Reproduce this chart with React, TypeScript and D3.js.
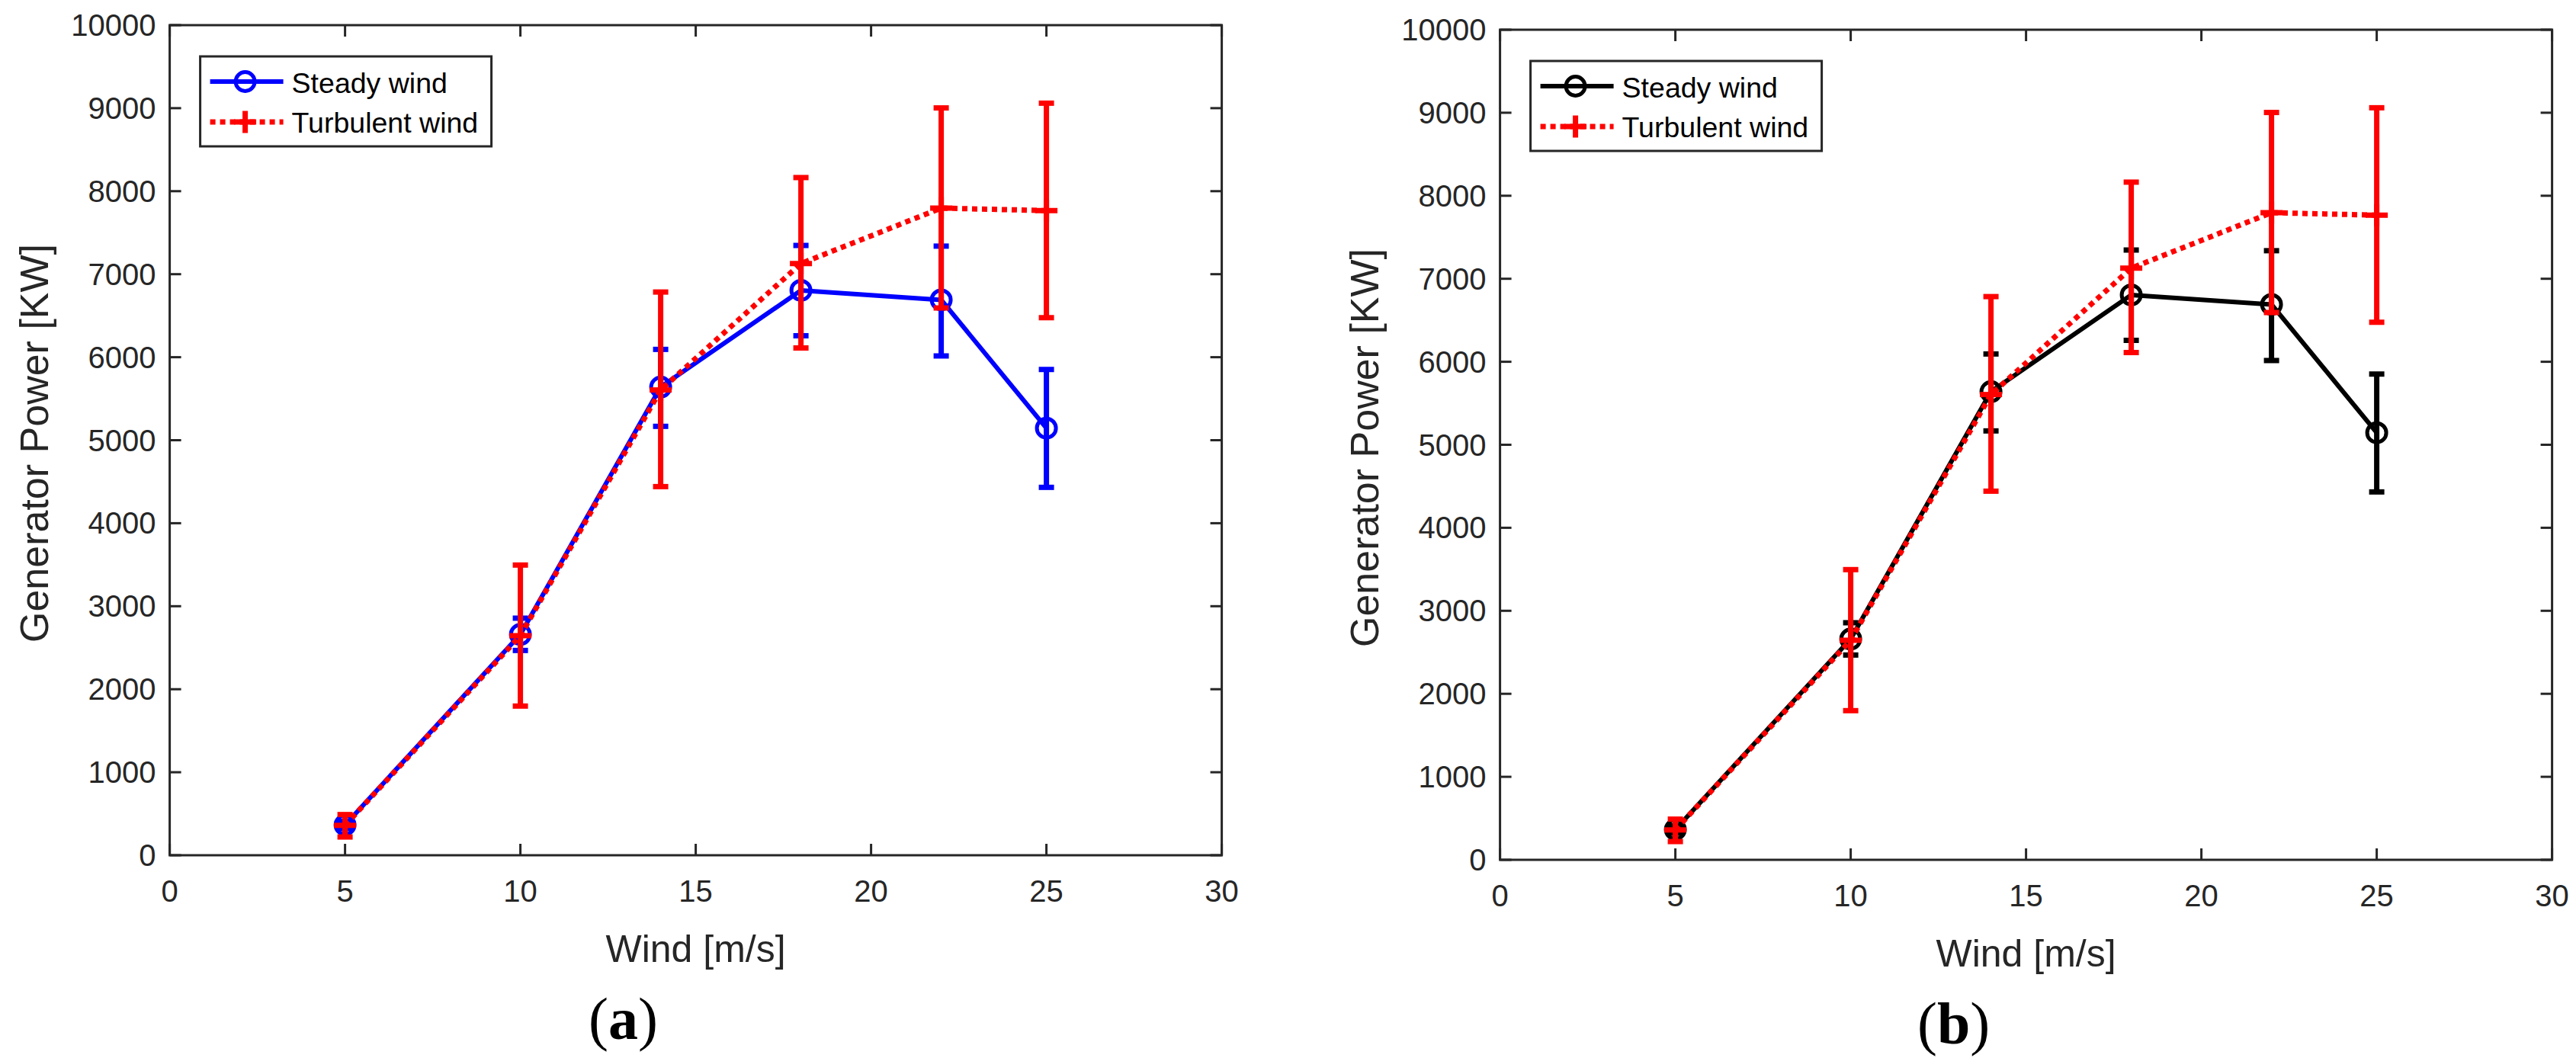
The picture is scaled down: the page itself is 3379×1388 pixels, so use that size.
import React from 'react';
import * as d3 from 'd3';

const windSpeeds = [5, 10, 14, 18, 22, 25];
const steadyMean = [365, 2660, 5640, 6805, 6690, 5145];
const steadyLow = [320, 2467, 5167, 6258, 6015, 4432];
const steadyHigh = [410, 2856, 6094, 7346, 7338, 5852];
const turbMean = [360, 2645, 5605, 7128, 7796, 7766];
const turbLow = [220, 1797, 4441, 6111, 6593, 6476];
const turbHigh = [490, 3496, 6785, 8164, 9003, 9060];
const xTicks = [0, 5, 10, 15, 20, 25, 30];
const yTicks = [0, 1000, 2000, 3000, 4000, 5000, 6000, 7000, 8000, 9000, 10000];
const legendLabels = ['Steady wind', 'Turbulent wind'];
const xLabel = 'Wind [m/s]';
const yLabel = 'Generator Power [KW]';

const AXIS = '#262626';
const RED = '#ff0000';
const SANS = '"Liberation Sans", Arial, Helvetica, sans-serif';
const SERIF = '"Liberation Serif", "Times New Roman", serif';

type PanelProps = { left: number; top: number; steadyColor: string; tag: string };

function Panel({ left, top, steadyColor, tag }: PanelProps) {
  const W = 1380;
  const H = 1089;
  const x = d3.scaleLinear().domain([0, 30]).range([left, left + W]);
  const y = d3.scaleLinear().domain([0, 10000]).range([top + H, top]);
  const line = d3
    .line<number>()
    .x((_, i) => x(windSpeeds[i]))
    .y((d) => y(d));
  const tickLen = 15;
  const capHalf = 10;
  const lx = left + 40;
  const ly = top + 41;

  const errBars = (lo: number[], hi: number[], color: string) =>
    windSpeeds.map((w, i) => (
      <g key={i} stroke={color} strokeWidth={7} fill="none">
        <line x1={x(w)} x2={x(w)} y1={y(lo[i])} y2={y(hi[i])} />
        <line x1={x(w) - capHalf} x2={x(w) + capHalf} y1={y(lo[i])} y2={y(lo[i])} />
        <line x1={x(w) - capHalf} x2={x(w) + capHalf} y1={y(hi[i])} y2={y(hi[i])} />
      </g>
    ));

  const plus = (cx: number, cy: number, key: any) => (
    <g key={key} stroke={RED} strokeWidth={7}>
      <line x1={cx - 14.5} x2={cx + 14.5} y1={cy} y2={cy} />
      <line x1={cx} x2={cx} y1={cy - 14.5} y2={cy + 14.5} />
    </g>
  );

  return (
    <g>
      {/* steady series */}
      {errBars(steadyLow, steadyHigh, steadyColor)}
      <path d={line(steadyMean) || ''} fill="none" stroke={steadyColor} strokeWidth={6} strokeLinejoin="round" />
      {windSpeeds.map((w, i) => (
        <circle key={i} cx={x(w)} cy={y(steadyMean[i])} r={12.5} fill="none" stroke={steadyColor} strokeWidth={5} />
      ))}
      {/* turbulent series */}
      {errBars(turbLow, turbHigh, RED)}
      <path d={line(turbMean) || ''} fill="none" stroke={RED} strokeWidth={7} strokeDasharray="7 6" />
      {windSpeeds.map((w, i) => plus(x(w), y(turbMean[i]), i))}

      {/* axes box */}
      <rect x={left} y={top} width={W} height={H} fill="none" stroke={AXIS} strokeWidth={3} />
      {xTicks.map((t) => (
        <g key={'x' + t} stroke={AXIS} strokeWidth={3}>
          <line x1={x(t)} x2={x(t)} y1={top + H} y2={top + H - tickLen} />
          <line x1={x(t)} x2={x(t)} y1={top} y2={top + tickLen} />
        </g>
      ))}
      {yTicks.map((t) => (
        <g key={'y' + t} stroke={AXIS} strokeWidth={3}>
          <line x1={left} x2={left + tickLen} y1={y(t)} y2={y(t)} />
          <line x1={left + W} x2={left + W - tickLen} y1={y(t)} y2={y(t)} />
        </g>
      ))}
      {xTicks.map((t) => (
        <text key={'xl' + t} x={x(t)} y={top + H + 61} textAnchor="middle" fontFamily={SANS} fontSize={40} fill={AXIS}>
          {t}
        </text>
      ))}
      {yTicks.map((t) => (
        <text key={'yl' + t} x={left - 18} y={y(t) + 14} textAnchor="end" fontFamily={SANS} fontSize={40} fill={AXIS}>
          {t}
        </text>
      ))}
      <text x={left + W / 2} y={top + H + 140} textAnchor="middle" fontFamily={SANS} fontSize={50} fill={AXIS}>
        {xLabel}
      </text>
      <text
        transform={`translate(${left - 160},${top + H / 2 + 4}) rotate(-90)`}
        textAnchor="middle"
        fontFamily={SANS}
        fontSize={52}
        fill={AXIS}
      >
        {yLabel}
      </text>
      <text x={left + 595} y={top + H + 241} textAnchor="middle" fontFamily={SERIF} fontSize={78} fill="#000">
        <tspan>(</tspan>
        <tspan fontWeight="bold">{tag}</tspan>
        <tspan>)</tspan>
      </text>

      {/* legend */}
      <rect x={lx} y={ly} width={382} height={118} fill="#fff" stroke={AXIS} strokeWidth={3} />
      <line x1={lx + 13} x2={lx + 109} y1={ly + 33} y2={ly + 33} stroke={steadyColor} strokeWidth={6} />
      <circle cx={lx + 59} cy={ly + 33} r={12.5} fill="none" stroke={steadyColor} strokeWidth={5} />
      <line x1={lx + 13} x2={lx + 109} y1={ly + 86} y2={ly + 86} stroke={RED} strokeWidth={7} strokeDasharray="7 6" />
      {plus(lx + 59, ly + 86, 'leg')}
      <text x={lx + 120} y={ly + 48} fontFamily={SANS} fontSize={37.5} fill="#000">
        {legendLabels[0]}
      </text>
      <text x={lx + 120} y={ly + 100} fontFamily={SANS} fontSize={37.5} fill="#000">
        {legendLabels[1]}
      </text>
    </g>
  );
}

export default function App() {
  return (
    <svg
      width={3379}
      height={1388}
      viewBox="0 0 3379 1388"
      style={{ position: 'absolute', left: 0, top: 0, background: '#fff' }}
    >
      <rect x={0} y={0} width={3379} height={1388} fill="#fff" />
      <Panel left={222.6} top={33} steadyColor="#0000ff" tag="a" />
      <Panel left={1967.6} top={39} steadyColor="#000000" tag="b" />
    </svg>
  );
}
